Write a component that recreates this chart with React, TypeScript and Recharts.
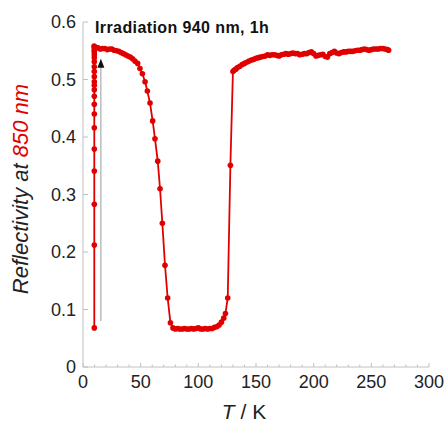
import React from 'react';
import {
  LineChart,
  Line,
  XAxis,
  YAxis,
  ReferenceLine,
  ReferenceDot,
} from 'recharts';

const RED = '#e00000';
const AXIS = '#c0c0c0';
const FONT = 'Arial, "Liberation Sans", sans-serif';

// temperature (K) and reflectivity at 850 nm, in measurement order
const temps = [
  9.8, 9.8, 9.8, 9.8, 9.8, 9.8, 9.8, 9.8, 9.8, 9.8, 9.8, 9.8, 9.8, 9.8, 9.8, 9.8,
  9.8, 9.8, 9.8, 9.8, 9.8, 9.6,
  11, 13, 15, 17, 19, 21, 23, 25, 27, 29, 31, 33, 35, 37, 39, 41, 43, 45, 47.4,
  49.4, 51.5, 53.8, 55.8, 58.1, 60.4, 62.4, 64.8, 66.8, 68.8, 71.1, 73.4, 75.8, 78,
  80, 82, 84, 86, 88, 90, 92, 94, 96, 98, 100, 102, 104, 106, 108, 110, 112, 114,
  116, 118, 120, 122, 123.5, 125.5, 127.8, 130,
  131, 132.5, 134, 136, 138, 140, 142, 144, 146, 148, 150, 152, 154, 156, 158, 160,
  162, 164, 166, 168, 170, 172, 174, 176, 178, 180, 182, 184, 186, 188, 190, 192,
  194, 196, 198, 200, 202, 204, 206, 208, 210, 212, 214, 216, 218, 220, 222, 224,
  226, 228, 230, 232, 234, 236, 238, 240, 242, 244, 246, 248, 250, 252, 254, 256,
  258, 260, 262, 264, 265,
];

const reflectivity = [
  0.068, 0.212, 0.283, 0.341, 0.379, 0.416, 0.44, 0.457, 0.471, 0.482, 0.49, 0.496,
  0.505, 0.514, 0.522, 0.531, 0.538, 0.543, 0.548, 0.551, 0.555, 0.558,
  0.556, 0.555, 0.553, 0.554, 0.554, 0.552, 0.553, 0.553, 0.551, 0.55, 0.549, 0.547,
  0.545, 0.543, 0.541, 0.539, 0.536, 0.532, 0.528, 0.519, 0.51, 0.496, 0.48, 0.459,
  0.428, 0.397, 0.358, 0.31, 0.25, 0.177, 0.12, 0.077, 0.068,
  0.066, 0.067, 0.066, 0.066, 0.067, 0.066, 0.066, 0.067, 0.066, 0.067, 0.068, 0.066,
  0.066, 0.067, 0.066, 0.067, 0.067, 0.069, 0.07, 0.073, 0.078, 0.085, 0.093, 0.12,
  0.351, 0.514,
  0.516, 0.518, 0.521, 0.523, 0.526, 0.528, 0.53, 0.532, 0.534, 0.535, 0.537, 0.538,
  0.539, 0.54, 0.541, 0.543, 0.542, 0.543, 0.543, 0.542, 0.541, 0.543, 0.544, 0.545,
  0.544, 0.545, 0.546, 0.545, 0.545, 0.543, 0.544, 0.545, 0.545, 0.547, 0.548, 0.545,
  0.541, 0.542, 0.543, 0.544, 0.54, 0.539, 0.545, 0.547, 0.549, 0.546, 0.545, 0.547,
  0.548, 0.548, 0.549, 0.549, 0.549, 0.55, 0.551, 0.551, 0.552, 0.553, 0.552, 0.551,
  0.552, 0.553, 0.553, 0.553, 0.554, 0.554, 0.553, 0.552, 0.551,
];

const xTicks = Array.from({ length: 31 }, (_, i) => i * 10);
const yTicks = [0, 0.1, 0.2, 0.3, 0.4, 0.5, 0.6];

// arrow showing the irradiation at low temperature
const arrowT = 15.5;
const arrowFrom = 0.08;
const arrowTo = 0.522;

const data = temps.map((t, i) => ({ T: t, R: reflectivity[i] }));

function XTick(props: any) {
  const { x, y, payload } = props;
  const major = payload.value % 50 === 0;
  return (
    <g>
      <line x1={x} y1={y} x2={x} y2={y - (major ? 4 : 2.5)} stroke={AXIS} />
      {major && (
        <text x={x} y={y + 21} textAnchor="middle" fontSize={18} fill="#222" fontFamily={FONT}>
          {payload.value}
        </text>
      )}
    </g>
  );
}

function YTick(props: any) {
  const { x, y, payload } = props;
  const v = payload.value;
  return (
    <g>
      <line x1={x} y1={y} x2={x + 5} y2={y} stroke={AXIS} />
      <text x={x - 7} y={y + 6} textAnchor="end" fontSize={18} fill="#222" fontFamily={FONT}>
        {v === 0 ? '0' : v.toFixed(1)}
      </text>
    </g>
  );
}

function YLabel() {
  return (
    <text
      x={28}
      y={189}
      transform="rotate(-90 28 189)"
      textAnchor="middle"
      fontSize={22}
      fontStyle="italic"
      fontFamily={FONT}
      fill="#222"
    >
      Reflectivity at <tspan fill={RED}>850 nm</tspan>
    </text>
  );
}

function XLabel() {
  return (
    <text x={244} y={419} textAnchor="middle" fontSize={21} fontFamily={FONT} fill="#222">
      <tspan fontStyle="italic">T</tspan> / K
    </text>
  );
}

function ArrowHead(props: any) {
  const { cx, cy } = props;
  return <path d={`M${cx},${cy - 8} L${cx - 3.5},${cy + 1} L${cx + 3.5},${cy + 1} Z`} fill="#111" />;
}

export default function App() {
  return (
    <div style={{ position: 'absolute', left: 0, top: 0, width: 447, height: 424 }}>
      <LineChart
        width={447}
        height={424}
        data={data}
        margin={{ top: 22, right: 18, left: 0, bottom: 0 }}
      >
        <XAxis
          type="number"
          dataKey="T"
          domain={[0, 300]}
          ticks={xTicks}
          interval={0}
          tickSize={0}
          tickMargin={0}
          tick={<XTick />}
          stroke={AXIS}
          height={57}
          label={{ content: <XLabel /> }}
        />
        <YAxis
          type="number"
          domain={[0, 0.6]}
          ticks={yTicks}
          interval={0}
          tickSize={0}
          tickMargin={0}
          tick={<YTick />}
          stroke={AXIS}
          width={83}
          label={{ content: <YLabel /> }}
        />
        <ReferenceLine
          segment={[
            { x: arrowT, y: arrowFrom },
            { x: arrowT, y: arrowTo },
          ]}
          stroke="#9a9a9a"
          strokeWidth={1}
        />
        <ReferenceDot x={arrowT} y={arrowTo} shape={<ArrowHead />} />
        <Line
          type="linear"
          dataKey="R"
          stroke={RED}
          strokeWidth={1.8}
          dot={{ r: 2.8, fill: RED, stroke: RED, strokeWidth: 0 }}
          activeDot={false}
          isAnimationActive={false}
        />
      </LineChart>
      <div
        style={{
          position: 'absolute',
          left: 95,
          top: 19,
          fontFamily: FONT,
          fontWeight: 'bold',
          fontSize: 16,
          letterSpacing: 0.4,
          color: '#111',
          whiteSpace: 'nowrap',
        }}
      >
        Irradiation 940 nm, 1h
      </div>
    </div>
  );
}
